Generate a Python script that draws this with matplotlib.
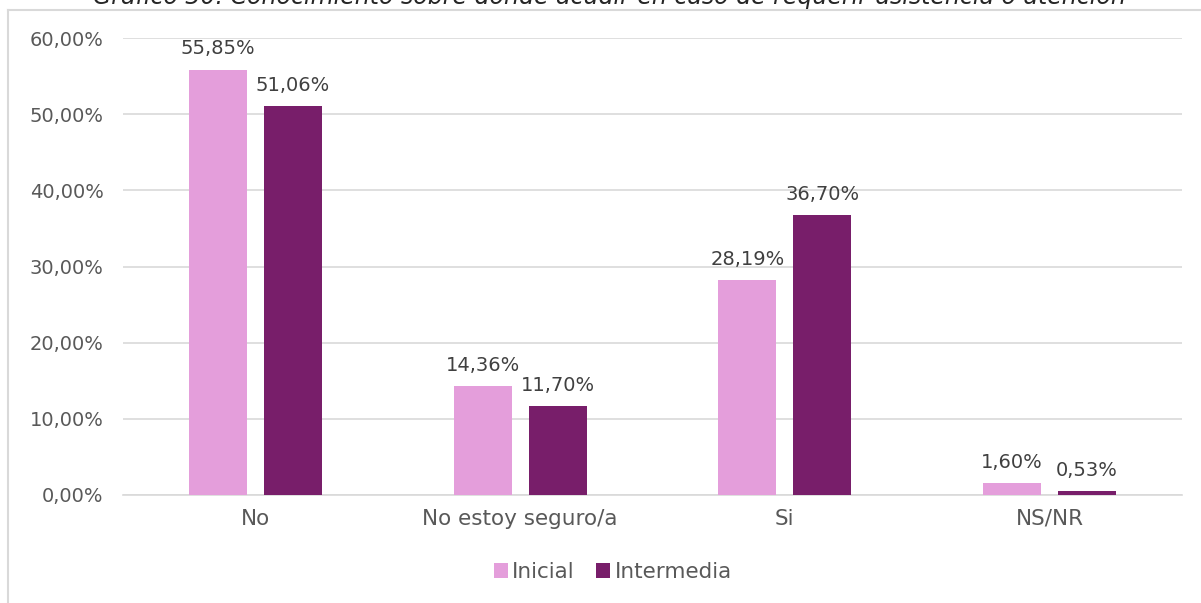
import matplotlib
matplotlib.use("Agg")
import matplotlib.pyplot as plt
import numpy as np
from matplotlib.lines import Line2D

categories = ["No", "No estoy seguro/a", "Si", "NS/NR"]
series_names = ["Inicial", "Intermedia"]
inicial = [55.85, 14.36, 28.19, 1.60]
intermedia = [51.06, 11.70, 36.70, 0.53]
yticks = [0, 10, 20, 30, 40, 50, 60]
colors = ["#E49EDB", "#781E6A"]
title = "Gráfico 30. Conocimiento sobre dónde acudir en caso de requerir asistencia o atención"

plt.rcParams['font.family'] = ['DejaVu Sans']
text_color = "#595959"

fig = plt.figure(figsize=(12.01, 6.03), dpi=100)
ax = fig.add_axes([123/1201, 1 - 495/603, (1182-123)/1201, (495-38)/603])

x = np.arange(len(categories))
w = 0.219
off = 0.1415
for vals, col, dx, name in [(inicial, colors[0], -off, series_names[0]), (intermedia, colors[1], off, series_names[1])]:
    bars = ax.bar(x + dx, vals, width=w, color=col, label=name, zorder=3)
    for b, v in zip(bars, vals):
        ax.annotate(f"{v:.2f}%".replace(".", ","), (b.get_x() + b.get_width()/2, v),
                    xytext=(0, 8), textcoords="offset points", ha="center", va="bottom",
                    fontsize=14, color="#404040")

ax.set_xlim(-0.5, len(categories) - 0.5)
ax.set_ylim(0, 60)
ax.set_yticks(yticks)
ax.set_yticklabels([f"{t:.2f}%".replace(".", ",") for t in yticks])
ax.set_xticks(x)
ax.set_xticklabels(categories)
ax.tick_params(axis="both", length=0, colors=text_color)
ax.tick_params(axis="y", pad=14, labelsize=14)
ax.tick_params(axis="x", pad=10, labelsize=15.5)
ax.grid(axis="y", color="#D9D9D9", linewidth=1.2, zorder=0)
for s in ["top", "right", "left"]:
    ax.spines[s].set_visible(False)
ax.spines["bottom"].set_color("#D9D9D9")
ax.spines["bottom"].set_linewidth(1.2)

leg = fig.legend(loc="center", bbox_to_anchor=(613/1201, 1 - 572/603), ncol=2, frameon=False,
                 fontsize=15.5, handlelength=0.65, handleheight=0.65, handletextpad=0.2,
                 columnspacing=1.0, labelcolor=text_color)

# chart frame
fig.add_artist(Line2D([8/1201, 8/1201], [0, 1 - 10/603], transform=fig.transFigure, color="#D9D9D9", lw=1.5))
fig.add_artist(Line2D([8/1201, 1], [1 - 10/603, 1 - 10/603], transform=fig.transFigure, color="#D9D9D9", lw=1.5))

fig.text(609/1201, 1 - 4/603, title, ha="center", va="baseline", fontsize=17, style="italic", color="#262626")

fig.savefig("out.png", dpi=100)
